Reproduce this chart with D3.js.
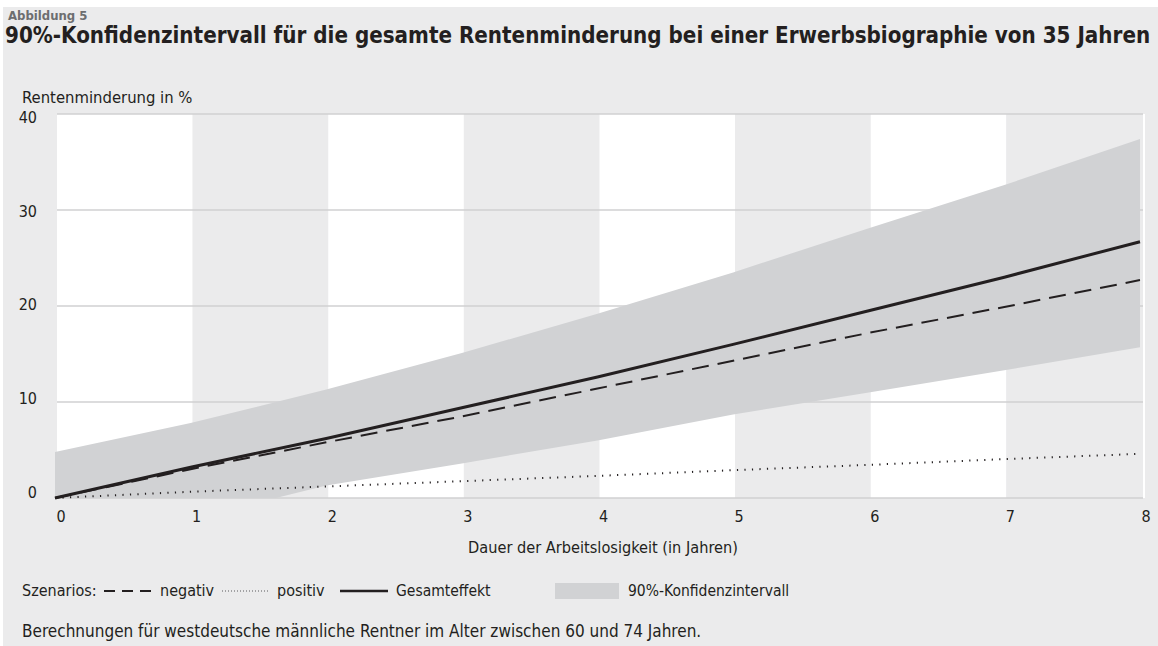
<!DOCTYPE html>
<html>
<head>
<meta charset="utf-8">
<script src="https://d3js.org/d3.v7.min.js"></script>
<style>
  body { margin: 0; background: #fff; }
  text { font-family: "Liberation Sans Narrow", "Arial Narrow", "DejaVu Sans Condensed", sans-serif; fill: #231f20; }
</style>
</head>
<body>
<div id="chart"></div>
<script>
// Dauer der Arbeitslosigkeit in Jahren
var years = [0, 1, 2, 3, 4, 5, 6, 7, 8];
// Rentenminderung in %
var gesamt  = [0, 3.2, 6.2, 9.4, 12.6, 16.0, 19.5, 23.0, 26.7];
var negativ = [0, 3.0, 5.8, 8.5, 11.4, 14.3, 17.2, 19.9, 22.7];
var positiv = [0, 0.65, 1.2, 1.75, 2.3, 2.9, 3.45, 4.05, 4.6];
// 90%-Konfidenzintervall (untere Grenze unter 0 wird abgeschnitten)
var ciUpper = [4.8, 7.8, 11.3, 15.1, 19.2, 23.5, 28.1, 32.6, 37.4];
var ciLower = [-4.5, -2.2, 1.3, 3.6, 6.0, 8.7, 11.0, 13.3, 15.7];

var yTicks = [0, 10, 20, 30, 40];
var xTicks = [0, 1, 2, 3, 4, 5, 6, 7, 8];

var W = 1158, H = 646;

var svg = d3.select("#chart").append("svg")
  .attr("width", W)
  .attr("height", H);

// panel background
svg.append("rect")
  .attr("x", 3).attr("y", 7)
  .attr("width", W - 3).attr("height", H - 7)
  .attr("fill", "#ebebec");

var x = d3.scaleLinear().domain([0, 8]).range([57, 1142]);
var y = d3.scaleLinear().domain([0, 40]).range([498, 114]);
// the tick labels sit a bit tighter than the gridlines
var yLab = d3.scaleLinear().domain([0, 40]).range([492, 117.5]);

// alternating stripes
svg.append("g")
  .selectAll("rect")
  .data(d3.range(8))
  .enter()
  .append("rect")
  .attr("x", function(d) { return x(d); })
  .attr("y", y(40))
  .attr("width", function(d) { return x(d + 1) - x(d); })
  .attr("height", y(0) - y(40))
  .attr("fill", function(d) { return d % 2 == 0 ? "#ffffff" : "#ebebec"; });

// white edge at the right
svg.append("line")
  .attr("x1", x(8) + 2).attr("x2", x(8) + 2)
  .attr("y1", y(40)).attr("y2", y(0))
  .attr("stroke", "#fff")
  .attr("stroke-width", 2);

// gridlines
svg.append("g")
  .selectAll("line")
  .data(yTicks)
  .enter()
  .append("line")
  .attr("x1", x(0)).attr("x2", x(8) + 1)
  .attr("y1", function(d) { return y(d); })
  .attr("y2", function(d) { return y(d); })
  .attr("stroke", "#d0d0d2")
  .attr("stroke-width", 1.5);

// clip at the zero line
svg.append("clipPath").attr("id", "plotclip")
  .append("rect")
  .attr("x", 0).attr("y", y(40))
  .attr("width", W).attr("height", y(0) - y(40));

var band = years.map(function(d, i) {
  return { x: d, lo: ciLower[i], hi: ciUpper[i] };
});

var area = d3.area()
  .x(function(d) { return x(d.x) - 2; })
  .y0(function(d) { return y(d.lo); })
  .y1(function(d) { return y(d.hi); });

svg.append("path")
  .datum(band)
  .attr("clip-path", "url(#plotclip)")
  .attr("d", area)
  .attr("fill", "#d1d2d4");

var line = d3.line()
  .x(function(d) { return x(d[0]) - 2; })
  .y(function(d) { return y(d[1]); });

function series(vals) {
  return years.map(function(d, i) { return [d, vals[i]]; });
}

svg.append("path")
  .datum(series(positiv))
  .attr("d", line)
  .attr("fill", "none")
  .attr("stroke", "#231f20")
  .attr("stroke-width", 2)
  .attr("stroke-dasharray", "1.2,6.3");

svg.append("path")
  .datum(series(negativ))
  .attr("d", line)
  .attr("fill", "none")
  .attr("stroke", "#231f20")
  .attr("stroke-width", 2)
  .attr("stroke-dasharray", "17,9");

svg.append("path")
  .datum(series(gesamt))
  .attr("d", line)
  .attr("fill", "none")
  .attr("stroke", "#231f20")
  .attr("stroke-width", 3);

// axis labels
svg.append("g")
  .selectAll("text")
  .data(yTicks)
  .enter()
  .append("text")
  .attr("x", 37)
  .attr("y", function(d) { return yLab(d); })
  .attr("dy", "0.35em")
  .attr("text-anchor", "end")
  .style("font-size", "16px")
  .text(function(d) { return d; });

svg.append("g")
  .selectAll("text")
  .data(xTicks)
  .enter()
  .append("text")
  .attr("x", function(d) { return x(d) + 4; })
  .attr("y", 516)
  .attr("dy", "0.35em")
  .attr("text-anchor", "middle")
  .style("font-size", "16px")
  .text(function(d) { return d; });

// titles
svg.append("text")
  .attr("x", 8).attr("y", 20)
  .style("font-size", "13px")
  .style("font-weight", "bold")
  .style("fill", "#6d6e70")
  .text("Abbildung 5");

var title = svg.append("text")
  .attr("x", 5).attr("y", 43)
  .style("font-size", "22.5px")
  .style("font-weight", "bold")
  .text("90%-Konfidenzintervall für die gesamte Rentenminderung bei einer Erwerbsbiographie von 35 Jahren");
// shrink the font until the title fits the panel width
var tlen = title.node().getComputedTextLength();
if (tlen > 1146) {
  title.style("font-size", (22.5 * 1146 / tlen) + "px");
}

svg.append("text")
  .attr("x", 22).attr("y", 103)
  .style("font-size", "16.5px")
  .text("Rentenminderung in %");

svg.append("text")
  .attr("x", 603).attr("y", 553)
  .attr("text-anchor", "middle")
  .style("font-size", "16.2px")
  .text("Dauer der Arbeitslosigkeit (in Jahren)");

// legend
var ly = 591;
var lg = svg.append("g");
lg.append("text").attr("x", 22).attr("y", ly + 5).style("font-size", "16px").text("Szenarios:");
lg.append("line").attr("x1", 104).attr("x2", 153).attr("y1", ly).attr("y2", ly)
  .attr("stroke", "#231f20").attr("stroke-width", 2).attr("stroke-dasharray", "11,7");
lg.append("text").attr("x", 160).attr("y", ly + 5).style("font-size", "16px").text("negativ");
lg.append("line").attr("x1", 222).attr("x2", 270).attr("y1", ly).attr("y2", ly)
  .attr("stroke", "#8a8a8c").attr("stroke-width", 1.5).attr("stroke-dasharray", "1,2");
lg.append("text").attr("x", 277).attr("y", ly + 5).style("font-size", "16px").text("positiv");
lg.append("line").attr("x1", 340).attr("x2", 388).attr("y1", ly).attr("y2", ly)
  .attr("stroke", "#231f20").attr("stroke-width", 2.5);
lg.append("text").attr("x", 396).attr("y", ly + 5).style("font-size", "15.5px").text("Gesamteffekt");
lg.append("rect").attr("x", 555).attr("y", ly - 8).attr("width", 64).attr("height", 16)
  .attr("fill", "#d1d2d4");
lg.append("text").attr("x", 628).attr("y", ly + 5).style("font-size", "15.5px").text("90%-Konfidenzintervall");

svg.append("text")
  .attr("x", 22).attr("y", 637)
  .style("font-size", "17px")
  .text("Berechnungen für westdeutsche männliche Rentner im Alter zwischen 60 und 74 Jahren.");
</script>
</body>
</html>
